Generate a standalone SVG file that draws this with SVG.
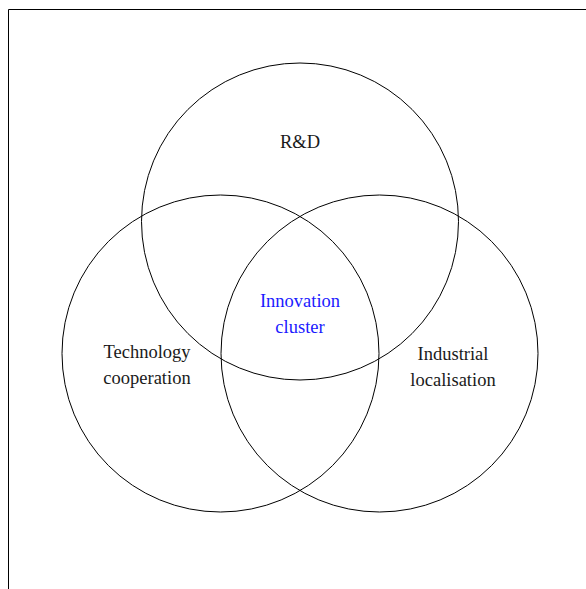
<svg xmlns="http://www.w3.org/2000/svg" width="586" height="589" viewBox="0 0 586 589">
<style>
.c{fill:none;stroke:#000;stroke-width:1}
text{font-size:18.5px;fill:#1a1a1a;text-anchor:middle}
.b{fill:#1a1aff}
</style>
<rect width="586" height="589" fill="#fff"/>
<path d="M8.5 589V9.5H586" fill="none" stroke="#000" stroke-width="1"/>
<g font-family="'Liberation Serif', 'Times New Roman', 'DejaVu Serif', serif">
<g id="rd"><circle class="c" cx="300" cy="221.5" r="158.5"/><text x="300" y="148">R&amp;D</text></g>
<g id="tech"><circle class="c" cx="220.5" cy="353.5" r="158.5"/><text x="147" y="358">Technology</text><text x="147" y="384">cooperation</text></g>
<g id="ind"><circle class="c" cx="379.5" cy="353.5" r="158.5"/><text x="453" y="360">Industrial</text><text x="453" y="386">localisation</text></g>
<g id="innov"><text class="b" x="300" y="307">Innovation</text><text class="b" x="300" y="333">cluster</text></g>
</g>
<g id="connectors"></g>
</svg>
